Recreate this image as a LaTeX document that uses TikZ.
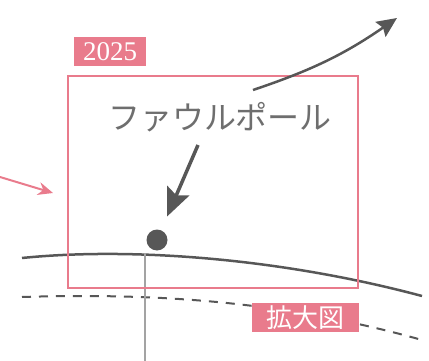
\documentclass[tikz,border=0pt]{standalone}
\usepackage{fontspec}
\setmainfont{Liberation Serif}
\newfontfamily\jpsans{Noto Sans CJK JP}
\usetikzlibrary{arrows.meta,positioning}
\definecolor{markpink}{HTML}{E97B8C}
\definecolor{polegray}{HTML}{6E6E6E}
\definecolor{arrowgray}{HTML}{575757}
\definecolor{linegray}{HTML}{A3A3A3}

\begin{document}
\begin{tikzpicture}[
    x=1pt, y=-1pt,
    every node/.style={inner sep=0pt},
    tag/.style={
        rectangle,
        fill=markpink,
        text=white,
        minimum height=29pt
    },
    pointer/.style={
        draw=arrowgray,
        line width=3.5pt,
        -{Stealth[length=28pt, width=24pt, inset=5pt]}
    }
]
    \useasboundingbox (0,0) rectangle (429,361);

    % === GROUND LINES ===
    \draw[arrowgray, line width=2.5pt] (22,258) .. controls (130,247) and (280,258) .. (422,296);
    \draw[arrowgray, line width=2pt, dash pattern=on 9pt off 8pt]
        (22,297) .. controls (150,293) and (280,300) .. (422,340);

    % Pole
    \coordinate (polefoot) at (145,253);
    \coordinate (polebottom) at (145,361);
    \draw[linegray, line width=2pt] (polefoot) -- (polebottom);

    % === ZOOM BOX ===
    \node[draw=markpink, line width=1.5pt, minimum width=290pt, minimum height=212pt] (zoombox) at (213,182) {};
    \node[tag, minimum width=72pt, font=\fontsize{27}{27}\selectfont] (yearlabel) at (110,51.5) {2025};
    \node[tag, minimum width=107pt, font=\jpsans\fontsize{26}{26}\selectfont] (zoomlabel) at (305.5,317.5) {拡大図};

    % Ball and name
    \node[circle, fill=arrowgray, minimum size=21pt] (ball) at (157,240) {};
    \node[text=polegray, font=\jpsans\fontsize{32}{32}\selectfont] (polename) at (220,117) {ファウルポール};

    % === ARROWS ===
    \coordinate (pointstart) at (198,145);
    \draw[pointer, shorten >=15pt] (pointstart) -- (ball);

    \coordinate (outstart) at (253,90);
    \coordinate (outend) at (397,18);
    \draw[draw=arrowgray, line width=2.5pt, -{Stealth[length=20pt, width=18pt, inset=3pt]}]
        (outstart) to[bend right=8] (outend);

    \coordinate (leftstart) at (0,177);
    \coordinate (leftend) at (53,193);
    \draw[draw=markpink, line width=2pt, -{Stealth[length=15pt, width=13pt]}] (leftstart) -- (leftend);
\end{tikzpicture}
\end{document}
